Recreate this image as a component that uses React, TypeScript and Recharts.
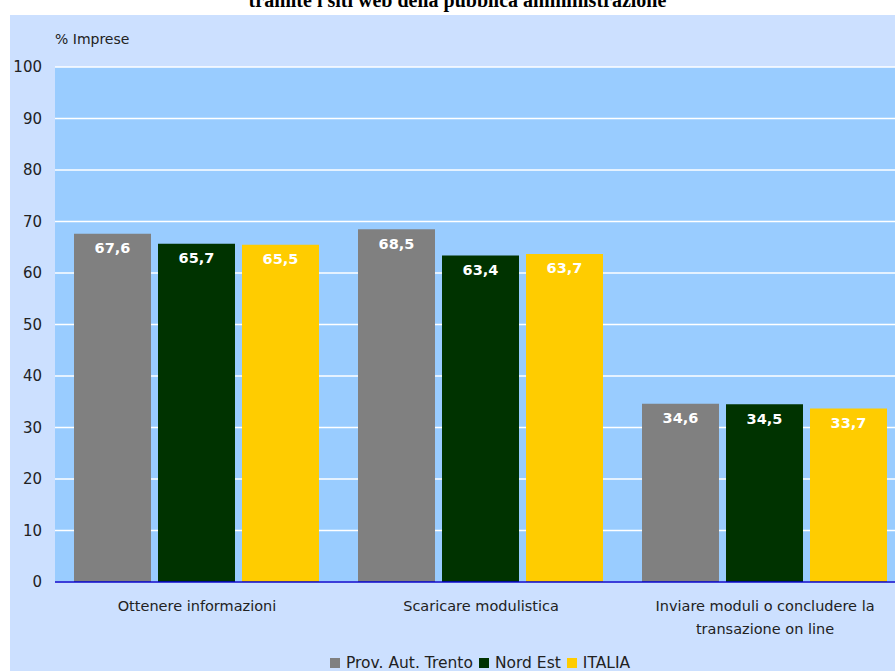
import React from 'react';
import { BarChart, Bar, XAxis, YAxis, CartesianGrid, LabelList, ReferenceLine } from 'recharts';

const categories = ['Ottenere informazioni', 'Scaricare modulistica', 'Inviare moduli o concludere la|transazione on line'];
const trento = [67.6, 68.5, 34.6];
const nordEst = [65.7, 63.4, 34.5];
const italia = [65.5, 63.7, 33.7];
const yTicks = [0, 10, 20, 30, 40, 50, 60, 70, 80, 90, 100];
const seriesNames = ['Prov. Aut. Trento', 'Nord Est', 'ITALIA'];
const seriesColors = ['#808080', '#003300', '#ffcc00'];

const data = categories.map((c, i) => ({ cat: c, trento: trento[i], nordEst: nordEst[i], italia: italia[i] }));

const FONT = '"DejaVu Sans", sans-serif';

const fmt = (v: any) => String(v).replace('.', ',');

const XTick = (props: any) => {
  const { x, y, payload } = props;
  const lines = String(payload.value).split('|');
  return (
    <g>
      {lines.map((l, i) => (
        <text key={i} x={x} y={y + 21 + i * 23} textAnchor="middle" fontSize={14.5} fill="#222" fontFamily={FONT}>
          {l}
        </text>
      ))}
    </g>
  );
};

export default function App() {
  return (
    <div style={{ position: 'absolute', left: 0, top: 0, width: 895, height: 671, overflow: 'hidden', background: '#fff' }}>
      <div style={{ position: 'absolute', left: 10, top: 15, width: 885, height: 656, background: '#cce0ff' }} />
      <div style={{ position: 'absolute', left: 0, top: -11, width: 915, textAlign: 'center', fontFamily: '"Liberation Serif", serif', fontWeight: 'bold', fontSize: 20, color: '#000' }}>
        tramite i siti web della pubblica amministrazione
      </div>
      <div style={{ position: 'absolute', left: 55, top: 31, fontFamily: FONT, fontSize: 14, color: '#222' }}>% Imprese</div>
      <div style={{ position: 'absolute', left: 0, top: 0 }}>
        <BarChart width={920} height={671} data={data} margin={{ top: 67, right: 13, left: 0, bottom: 39 }} barCategoryGap={19} barGap={7}>
          <CartesianGrid vertical={false} stroke="#ffffff" strokeWidth={1.5} fill="#99ccff" />
          <XAxis dataKey="cat" height={50} tickLine={false} axisLine={false} tick={<XTick />} interval={0} />
          <YAxis width={55} domain={[0, 100]} ticks={yTicks} tickLine={false} axisLine={false} tickMargin={7} tick={{ fontSize: 15, fill: '#222', fontFamily: FONT }} />
          <ReferenceLine y={0} stroke="#0000cc" strokeWidth={1.5} />
          <Bar dataKey="trento" fill={seriesColors[0]} isAnimationActive={false}>
            <LabelList dataKey="trento" position="insideTop" offset={9} formatter={fmt} fill="#fff" fontSize={14.5} fontWeight="bold" fontFamily={FONT} />
          </Bar>
          <Bar dataKey="nordEst" fill={seriesColors[1]} isAnimationActive={false}>
            <LabelList dataKey="nordEst" position="insideTop" offset={9} formatter={fmt} fill="#fff" fontSize={14.5} fontWeight="bold" fontFamily={FONT} />
          </Bar>
          <Bar dataKey="italia" fill={seriesColors[2]} isAnimationActive={false}>
            <LabelList dataKey="italia" position="insideTop" offset={9} formatter={fmt} fill="#fff" fontSize={14.5} fontWeight="bold" fontFamily={FONT} />
          </Bar>
        </BarChart>
      </div>
      <div style={{ position: 'absolute', left: 330, top: 654, display: 'flex', alignItems: 'center', fontFamily: FONT, fontSize: 15.5, color: '#222', whiteSpace: 'nowrap' }}>
        {seriesNames.map((n, i) => (
          <span key={n} style={{ display: 'inline-flex', alignItems: 'center', marginRight: 6 }}>
            <span style={{ display: 'inline-block', width: 10, height: 10, background: seriesColors[i], marginRight: 6 }} />
            {n}
          </span>
        ))}
      </div>
    </div>
  );
}
